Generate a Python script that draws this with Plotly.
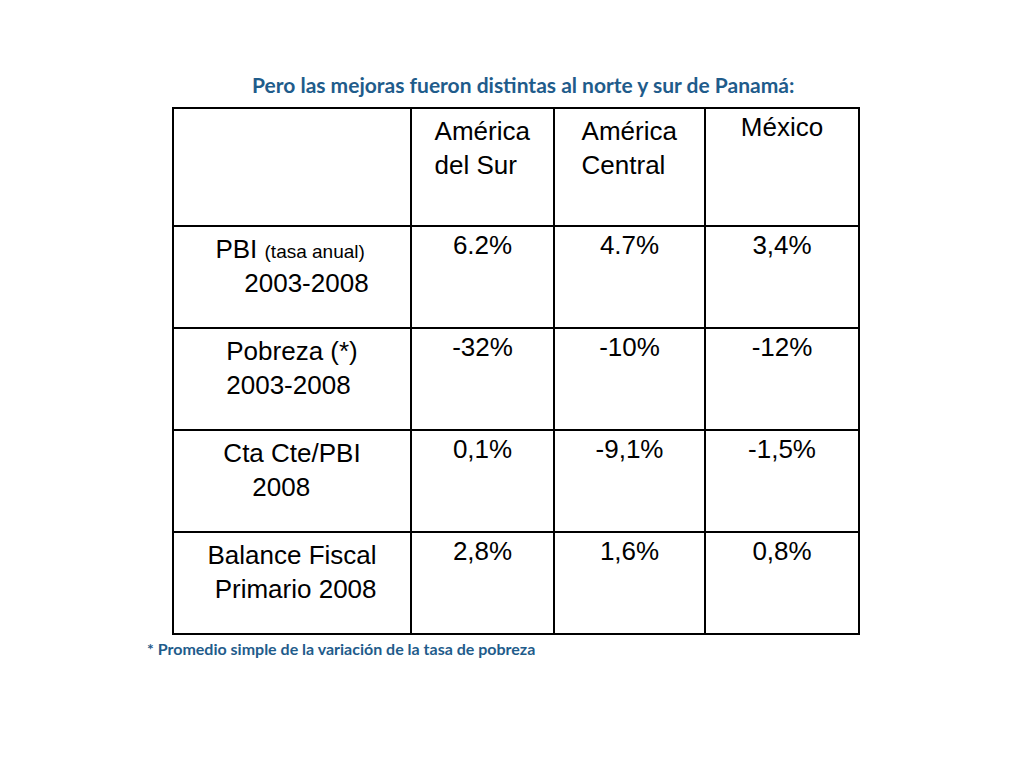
import plotly.graph_objects as go

header = ["", "América<br>del Sur", "América<br>Central", "México"]
row_labels = ["PBI <span style='font-size:19px'>(tasa anual)</span><br>    2003-2008",
              "Pobreza (*)<br>2003-2008",
              "Cta Cte/PBI<br>    2008",
              "Balance Fiscal<br> Primario 2008"]
sur = ["6.2%", "-32%", "0,1%", "2,8%"]
central = ["4.7%", "-10%", "-9,1%", "1,6%"]
mexico = ["3,4%", "-12%", "-1,5%", "0,8%"]
col_widths = [238, 143, 151, 154]

fig = go.Figure(go.Table(
    columnwidth=col_widths,
    domain=dict(x=[165/1024, 851/1024], y=[0, 1-100/768]),
    header=dict(values=header, height=118, align="center",
                line=dict(color="black", width=2), fill_color="white",
                font=dict(family="Liberation Sans", size=26, color="black")),
    cells=dict(values=[row_labels, sur, central, mexico], height=102, align="center",
               line=dict(color="black", width=2), fill_color="white",
               font=dict(family="Liberation Sans", size=26, color="black")),
))
fig.add_annotation(text="<b>Pero las mejoras fueron distintas al norte y sur de Panamá:</b>",
                   x=515/1024, y=1-62/768, xref="paper", yref="paper", showarrow=False,
                   font=dict(family="Lato", size=21, color="#1F5C8B"))
fig.add_annotation(text="<b>* Promedio simple de la variación de la tasa de pobreza</b>",
                   x=137/1024, y=1-652/768, xref="paper", yref="paper", xanchor="left",
                   showarrow=False, font=dict(family="Lato", size=16, color="#1F5C8B"))
fig.update_layout(width=1024, height=768, margin=dict(l=0, r=0, t=0, b=0),
                  paper_bgcolor="white", plot_bgcolor="white")
fig.write_html("out.html")
